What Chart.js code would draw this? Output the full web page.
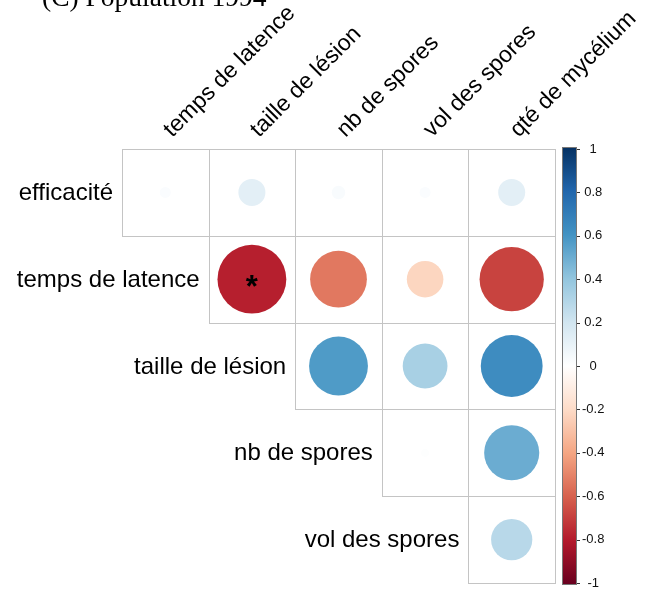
<!DOCTYPE html>
<html>
<head>
<meta charset="utf-8">
<script src="https://cdn.jsdelivr.net/npm/chart.js@4.4.0/dist/chart.umd.min.js"></script>
<style>
  html, body { margin: 0; padding: 0; background: #fff; }
  canvas { display: block; }
</style>
</head>
<body>
<canvas id="corrChart" width="653" height="600"></canvas>
<script>
const titleText = '(C) Population 1994';
const rowLabels = ['efficacité', 'temps de latence', 'taille de lésion', 'nb de spores', 'vol des spores'];
const colLabels = ['temps de latence', 'taille de lésion', 'nb de spores', 'vol des spores', 'qté de mycélium'];

// upper triangle: row i starts at column i
const corrEfficacite = [0.02, 0.12, 0.03, 0.02, 0.12];
const corrLatence = [-0.78, -0.53, -0.22, -0.68];
const corrLesion = [0.57, 0.33, 0.63];
const corrNbSpores = [0.01, 0.50];
const corrVolSpores = [0.28];
const corrRows = [corrEfficacite, corrLatence, corrLesion, corrNbSpores, corrVolSpores];

// significant cells as [row, col]
const signifCells = [[1, 1]];

const colorTicks = [-1, -0.8, -0.6, -0.4, -0.2, 0, 0.2, 0.4, 0.6, 0.8, 1];
const rdbu = ['#67001F', '#B2182B', '#D6604D', '#F4A582', '#FDDBC7', '#FFFFFF',
              '#D1E5F0', '#92C5DE', '#4393C3', '#2166AC', '#053061'];

const hexToRgb = h => [1, 3, 5].map(i => parseInt(h.slice(i, i + 2), 16));
const corrColor = v => {
    const t = (v + 1) / 2 * (rdbu.length - 1);
    const i = Math.min(Math.floor(t), rdbu.length - 2);
    const f = t - i;
    const a = hexToRgb(rdbu[i]), b = hexToRgb(rdbu[i + 1]);
    return 'rgb(' + a.map((x, k) => Math.round(x + (b[k] - x) * f)).join(',') + ')';
};

const points = [];
corrRows.forEach((vals, r) => vals.forEach((v, k) => points.push({ x: r + k, y: r, v: v })));

const sansFont = '"Liberation Sans", Arial, sans-serif';

let cellPx = 0;

const corrDecor = {
    id: 'corrDecor',
    afterLayout(chart) {
        const xs = chart.scales.x;
        cellPx = xs.getPixelForValue(1) - xs.getPixelForValue(0);
    },
    beforeDatasetsDraw(chart) {
        const { ctx, scales: { x, y } } = chart;
        ctx.save();
        ctx.strokeStyle = '#c4c4c4';
        ctx.lineWidth = 1;
        corrRows.forEach((vals, r) => vals.forEach((v, k) => {
            const c = r + k;
            const x0 = Math.round(x.getPixelForValue(c - 0.5)) + 0.5;
            const x1 = Math.round(x.getPixelForValue(c + 0.5)) + 0.5;
            const y0 = Math.round(y.getPixelForValue(r - 0.5)) + 0.5;
            const y1 = Math.round(y.getPixelForValue(r + 0.5)) + 0.5;
            ctx.strokeRect(x0, y0, x1 - x0, y1 - y0);
        }));

        ctx.fillStyle = '#000';
        ctx.font = '24px ' + sansFont;
        ctx.textAlign = 'right';
        ctx.textBaseline = 'middle';
        rowLabels.forEach((lab, r) => {
            ctx.fillText(lab, x.getPixelForValue(r - 0.5) - 9, y.getPixelForValue(r) + 1);
        });

        ctx.font = '23px ' + sansFont;
        ctx.textAlign = 'left';
        ctx.textBaseline = 'alphabetic';
        colLabels.forEach((lab, c) => {
            ctx.save();
            ctx.translate(x.getPixelForValue(c) + 7, y.getPixelForValue(-0.5) - 11);
            ctx.rotate(-Math.PI / 4);
            ctx.fillText(lab, 0, 0);
            ctx.restore();
        });

        ctx.font = '27.5px "Liberation Serif", "Times New Roman", serif';
        ctx.fillText(titleText, 42, 6);
        ctx.restore();
    },
    afterDatasetsDraw(chart) {
        const { ctx, scales: { x, y } } = chart;
        ctx.save();
        ctx.fillStyle = '#000';
        ctx.font = 'bold 31px ' + sansFont;
        ctx.textAlign = 'center';
        ctx.textBaseline = 'alphabetic';
        signifCells.forEach(([r, c]) => {
            ctx.fillText('*', x.getPixelForValue(c), y.getPixelForValue(r) + 18);
        });
        ctx.restore();
    },
    afterDraw(chart) {
        const { ctx, chartArea, scales: { y2 } } = chart;
        const top = y2.getPixelForValue(1) - 2;
        const bottom = y2.getPixelForValue(-1) + 2;
        const left = chartArea.right + 7;
        const w = 15;
        ctx.save();
        const grad = ctx.createLinearGradient(0, bottom, 0, top);
        rdbu.forEach((col, i) => grad.addColorStop(i / (rdbu.length - 1), col));
        ctx.fillStyle = grad;
        ctx.fillRect(left, top, w, bottom - top);
        ctx.strokeStyle = '#777';
        ctx.lineWidth = 1;
        ctx.strokeRect(left + 0.5, top + 0.5, w - 1, bottom - top - 1);
        ctx.strokeStyle = '#333';
        colorTicks.forEach(v => {
            const py = Math.round(y2.getPixelForValue(v)) + 0.5;
            ctx.beginPath();
            ctx.moveTo(left + w, py);
            ctx.lineTo(left + w + 3, py);
            ctx.stroke();
        });
        ctx.restore();
    }
};

new Chart(document.getElementById('corrChart'), {
    type: 'scatter',
    data: {
        datasets: [{
            data: points,
            showLine: false,
            pointBackgroundColor: ctx => ctx.raw ? corrColor(ctx.raw.v) : '#fff',
            pointBorderWidth: 0,
            pointRadius: ctx => ctx.raw ? 0.9 * Math.sqrt(Math.abs(ctx.raw.v)) / 2 * cellPx : 0
        }]
    },
    options: {
        responsive: false,
        animation: false,
        events: [],
        layout: { autoPadding: false, padding: { left: 122, top: 149, bottom: 17, right: 0 } },
        plugins: { legend: { display: false }, tooltip: { enabled: false } },
        scales: {
            x: { type: 'linear', min: -0.5, max: 4.5, display: false },
            y: { type: 'linear', min: -0.5, max: 4.5, reverse: true, display: false },
            y2: {
                type: 'linear',
                position: 'right',
                min: -1,
                max: 1,
                afterBuildTicks: scale => { scale.ticks = colorTicks.map(v => ({ value: v })); },
                afterFit: scale => {
                    scale.width = 98;
                    scale.paddingTop = 0;
                    scale.paddingBottom = 0;
                },
                grid: { display: false, drawTicks: false },
                border: { display: false },
                ticks: {
                    autoSkip: false,
                    crossAlign: 'center',
                    padding: 27,
                    color: '#111',
                    font: { family: sansFont, size: 13 },
                    callback: v => String(v)
                }
            }
        }
    },
    plugins: [corrDecor]
});
</script>
</body>
</html>
